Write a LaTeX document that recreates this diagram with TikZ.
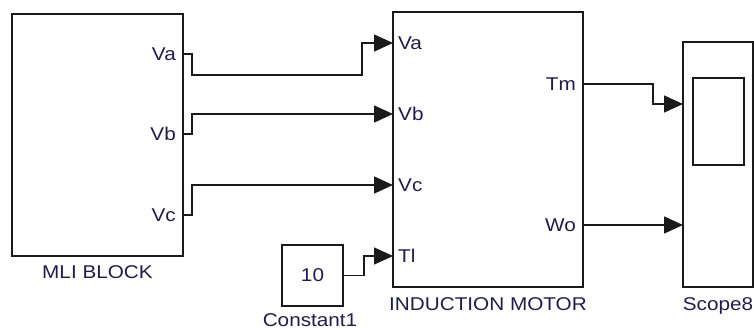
\documentclass[tikz,border=0pt]{standalone}
\usepackage{fontspec}
\setmainfont{Liberation Sans}[FakeStretch=1.12]
\usetikzlibrary{arrows.meta,positioning}

\begin{document}
\begin{tikzpicture}[
    x=1pt,
    y=-1pt,
    line cap=butt,
    line join=miter,
    every node/.style={font=\fontsize{18.5}{22}\selectfont,text=slText},
]
\definecolor{slText}{HTML}{1E1E4A}
\definecolor{slStroke}{HTML}{1A1A1A}

\tikzset{
    block/.style={draw=slStroke,line width=1.5pt,inner sep=0pt,fill=white},
    wire/.style={draw=slStroke,line width=1.5pt},
    sigwire/.style={wire,-{Triangle[length=19pt,width=17pt]}},
    blocklabel/.style={inner sep=0pt},
    portlabel/.style={inner sep=0pt},
}

\useasboundingbox (0,0) rectangle (754,329);

% blocks
\node[block,minimum width=171pt,minimum height=242pt] (mli) at (97.5,135) {};
\node[block,minimum width=190pt,minimum height=275pt] (im) at (488,149.5) {};
\node[block,minimum width=61pt,minimum height=61pt] (const) at (312.5,275.5) {10};
\node[block,minimum width=70pt,minimum height=245pt] (scope) at (718,164.5) {};
\node[block,minimum width=51pt,minimum height=87pt] (screen) at (718.5,121.5) {};

% block names
\node[blocklabel,below=9pt of mli] (mliName) {MLI BLOCK};
\node[blocklabel,below=10pt of im] (imName) {INDUCTION MOTOR};
\node[blocklabel,below=10pt of scope] (scopeName) {Scope8};
\node[blocklabel,anchor=base] (constName) at (310,326.5) {Constant1};

% ports
\foreach \p/\y in {Va/54,Vb/134,Vc/215} {
    \coordinate (mli\p) at (183,\y);
    \node[portlabel,anchor=east] (mliL\p) at (176,\y) {\p};
}
\foreach \p/\y in {Va/43,Vb/114,Vc/185,Tl/256} {
    \coordinate (im\p) at (393,\y);
    \node[portlabel,anchor=west] (imL\p) at (398,\y) {\p};
}
\foreach \p/\y in {Tm/84,Wo/225} {
    \coordinate (im\p) at (583,\y);
    \node[portlabel,anchor=east] (imL\p) at (576,\y) {\p};
}
\coordinate (scTm) at (683,104);
\coordinate (scWo) at (683,225);

% wires
\draw[sigwire] (mliVa) -| ++(9,21) -| ([xshift=-31pt]imVa) -- (imVa);
\draw[sigwire] (mliVb) -| ++(9,-20) -- (imVb);
\draw[sigwire] (mliVc) -| ++(9,-30) -- (imVc);
\draw[sigwire] (const.east) -- ++(20,0) |- (imTl);
\draw[sigwire] (imTm) -- ++(70,0) |- (scTm);
\draw[sigwire] (imWo) -- (scWo);
\end{tikzpicture}
\end{document}
